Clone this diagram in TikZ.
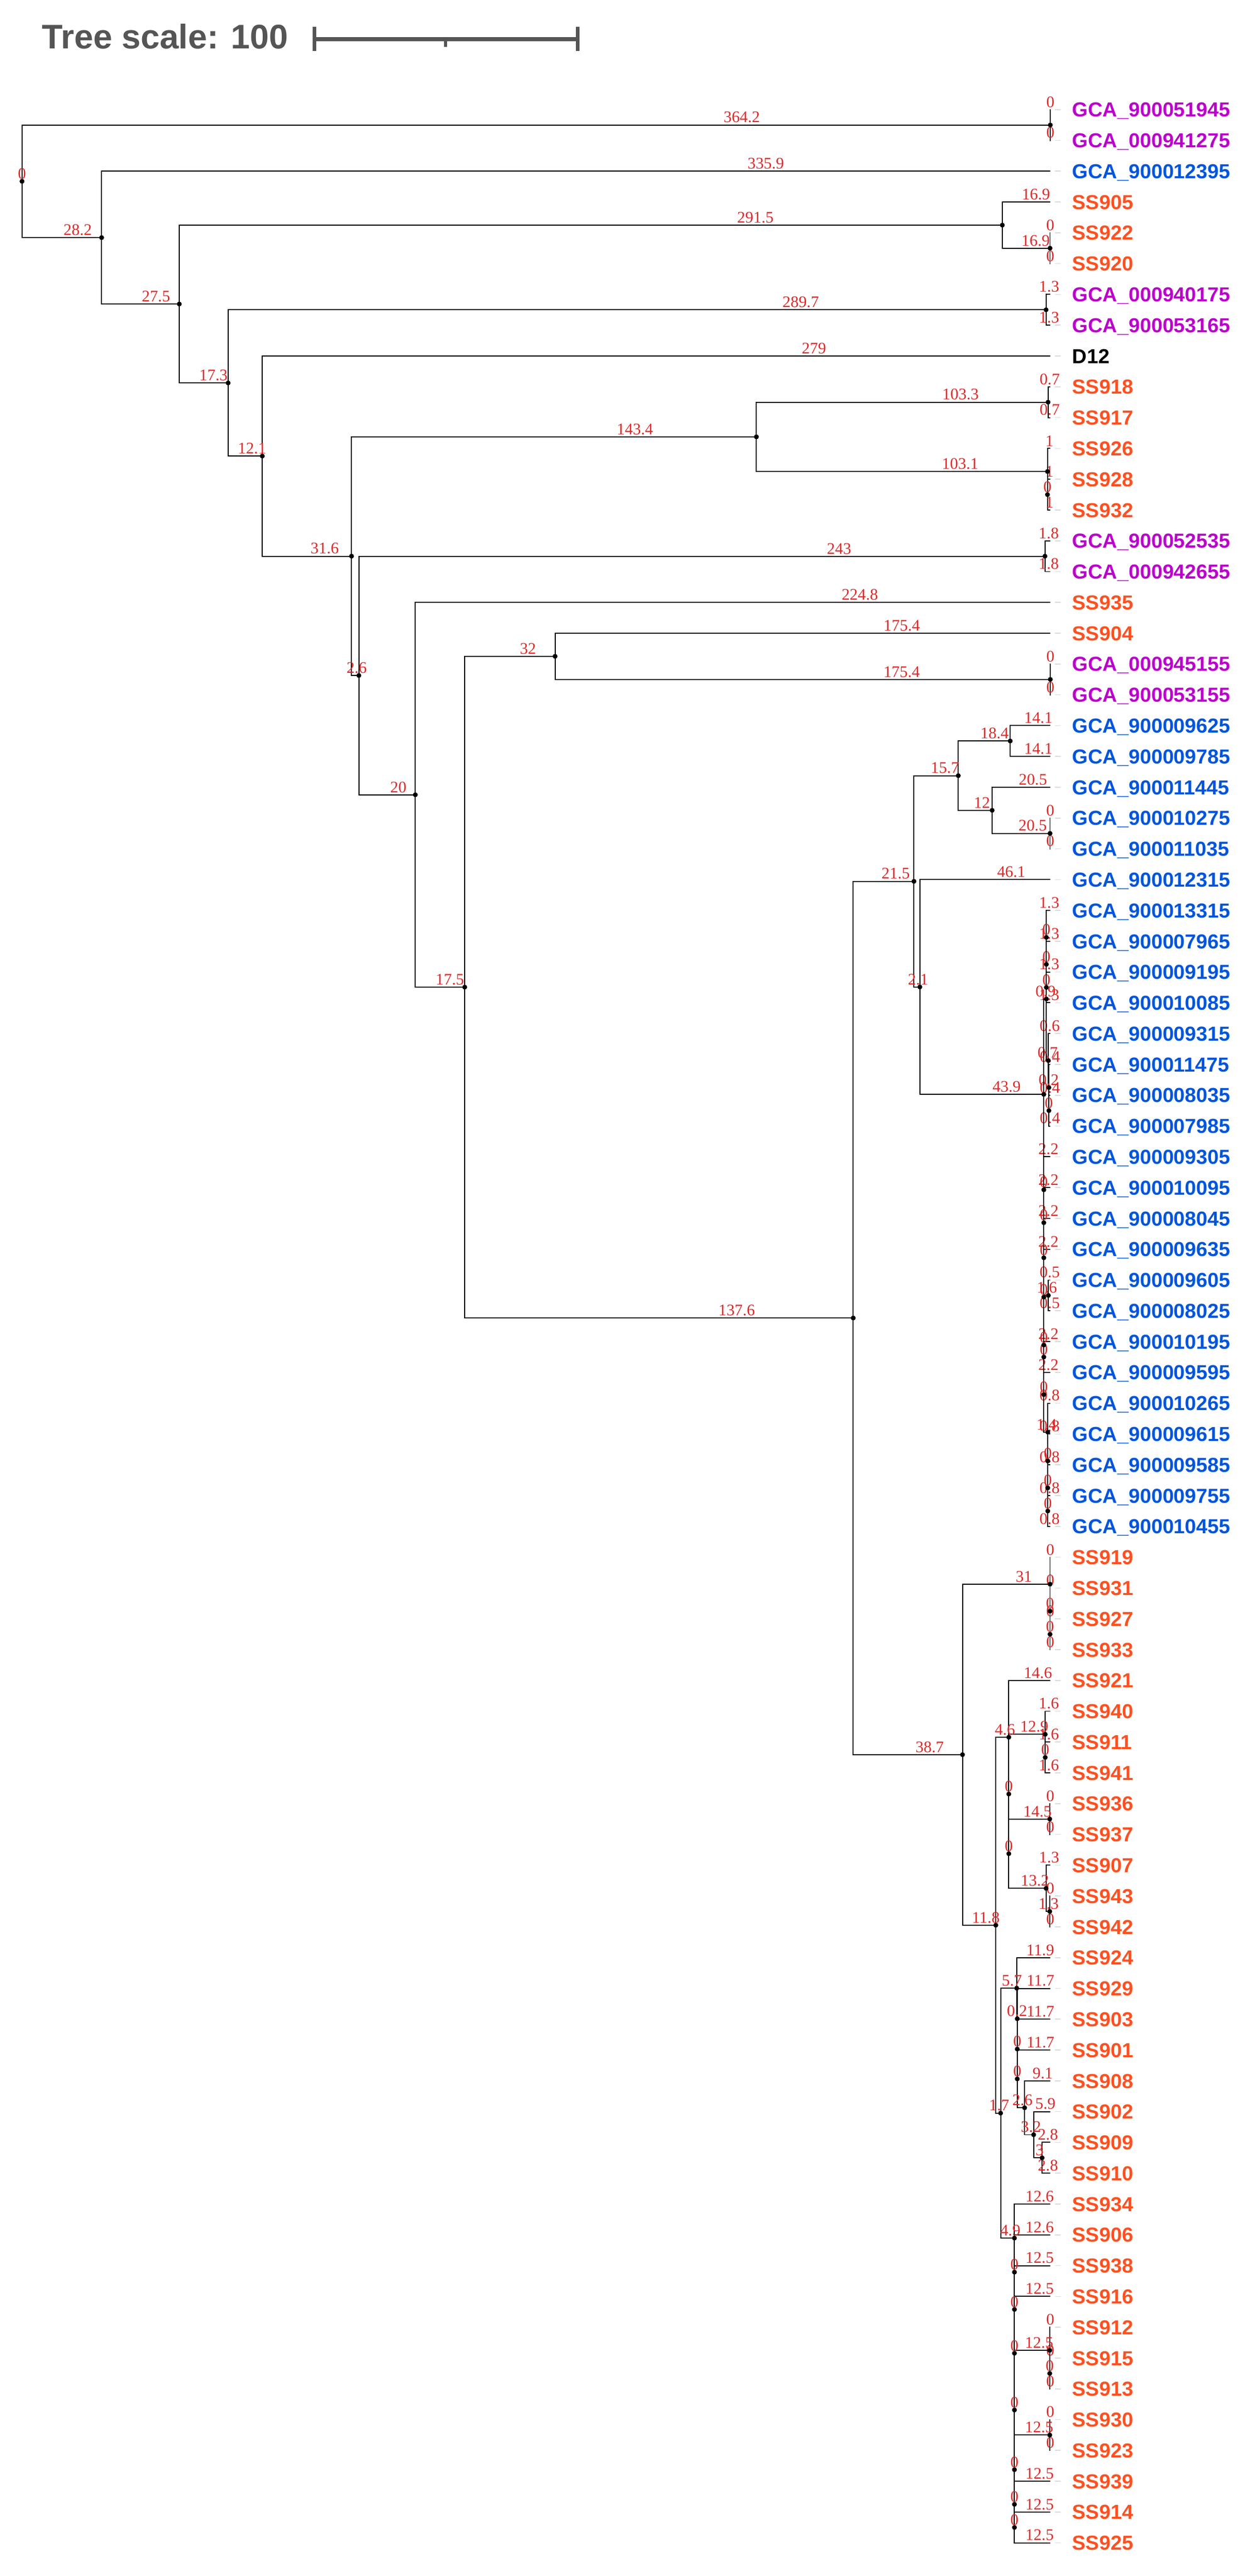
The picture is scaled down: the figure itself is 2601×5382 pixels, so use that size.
\documentclass[tikz,border=0pt]{standalone}
\usepackage{fontspec}
\setmainfont{Liberation Serif}
\newfontfamily\lsans{Liberation Sans}
\usetikzlibrary{calc}
\definecolor{cpur}{HTML}{BB00CC}
\definecolor{cblu}{HTML}{0055DD}
\definecolor{cora}{HTML}{FF5020}
\definecolor{clbl}{HTML}{E02828}
\definecolor{cgry}{HTML}{555555}
\tikzset{
  branch/.style={line width=0.6pt, black, line join=miter},
  blbl/.style={text=clbl, font=\fontsize{9.6}{10}\selectfont, above=1.1pt, inner sep=0pt},
  leaflabel/.style={font=\lsans\bfseries\fontsize{12.07}{14}\selectfont, anchor=base west, inner sep=0pt},
  dashline/.style={gray!30, line width=0.5pt},
  nodedot/.style={fill=black}
}
\newcommand\tipx{2195}
\newcommand\mkleaf[3]{%
  \coordinate (L#1) at (\tipx,{229+(#1-1)*64.35});
  \coordinate (Da#1) at ($(L#1)+(9,0)$);
  \coordinate (Db#1) at ($(L#1)+(21,0)$);
  \draw[dashline] (Da#1) -- (Db#1);
  \node[leaflabel, text=#3] (T#1) at ($(L#1)+(45,15.2)$) {#2};
}
\newcommand\mkint[6]{%
  \coordinate (tmpm) at ($(#3)!0.5!(#5)$);
  \coordinate (tmpx) at ({46+5.9*#2},0);
  \coordinate (#1) at (tmpx |- tmpm);
  \draw[branch] (#3) -- (#1 |- #3) -- (#1 |- #5) -- (#5);
  \path (#1 |- #3) -- node[pos=0.7, blbl] {#4} (#3);
  \path (#1 |- #5) -- node[pos=0.7, blbl] {#6} (#5);
  \fill[nodedot] (#1) circle[radius=1.45pt];
}
\begin{document}
\begin{tikzpicture}[x=0.01cm, y=-0.01cm]
\fill[white] (0,0) rectangle (2601,5382);
\useasboundingbox (0,0) rectangle (2601,5382);
% tree scale
\node[font=\lsans\bfseries\fontsize{20.3}{24}\selectfont, text=cgry, anchor=base west, inner sep=0pt] (ts) at (87,102) {Tree scale: 100};
\coordinate (sb0) at (655,82); \coordinate (sb1) at (1209,82); \coordinate (sbm) at (931,82);
\draw[cgry, line width=2.5pt] (sb0) -- (sb1);
\draw[cgry, line width=2pt] ($(sb0)+(2,-26)$) -- ($(sb0)+(2,25)$);
\draw[cgry, line width=2pt] ($(sb1)+(-2,-26)$) -- ($(sb1)+(-2,25)$);
\draw[cgry, line width=1.6pt] (sbm) -- ($(sbm)+(0,16)$);
% leaves
\mkleaf{1}{GCA\_900051945}{cpur}
\mkleaf{2}{GCA\_000941275}{cpur}
\mkleaf{3}{GCA\_900012395}{cblu}
\mkleaf{4}{SS905}{cora}
\mkleaf{5}{SS922}{cora}
\mkleaf{6}{SS920}{cora}
\mkleaf{7}{GCA\_000940175}{cpur}
\mkleaf{8}{GCA\_900053165}{cpur}
\mkleaf{9}{D12}{black}
\mkleaf{10}{SS918}{cora}
\mkleaf{11}{SS917}{cora}
\mkleaf{12}{SS926}{cora}
\mkleaf{13}{SS928}{cora}
\mkleaf{14}{SS932}{cora}
\mkleaf{15}{GCA\_900052535}{cpur}
\mkleaf{16}{GCA\_000942655}{cpur}
\mkleaf{17}{SS935}{cora}
\mkleaf{18}{SS904}{cora}
\mkleaf{19}{GCA\_000945155}{cpur}
\mkleaf{20}{GCA\_900053155}{cpur}
\mkleaf{21}{GCA\_900009625}{cblu}
\mkleaf{22}{GCA\_900009785}{cblu}
\mkleaf{23}{GCA\_900011445}{cblu}
\mkleaf{24}{GCA\_900010275}{cblu}
\mkleaf{25}{GCA\_900011035}{cblu}
\mkleaf{26}{GCA\_900012315}{cblu}
\mkleaf{27}{GCA\_900013315}{cblu}
\mkleaf{28}{GCA\_900007965}{cblu}
\mkleaf{29}{GCA\_900009195}{cblu}
\mkleaf{30}{GCA\_900010085}{cblu}
\mkleaf{31}{GCA\_900009315}{cblu}
\mkleaf{32}{GCA\_900011475}{cblu}
\mkleaf{33}{GCA\_900008035}{cblu}
\mkleaf{34}{GCA\_900007985}{cblu}
\mkleaf{35}{GCA\_900009305}{cblu}
\mkleaf{36}{GCA\_900010095}{cblu}
\mkleaf{37}{GCA\_900008045}{cblu}
\mkleaf{38}{GCA\_900009635}{cblu}
\mkleaf{39}{GCA\_900009605}{cblu}
\mkleaf{40}{GCA\_900008025}{cblu}
\mkleaf{41}{GCA\_900010195}{cblu}
\mkleaf{42}{GCA\_900009595}{cblu}
\mkleaf{43}{GCA\_900010265}{cblu}
\mkleaf{44}{GCA\_900009615}{cblu}
\mkleaf{45}{GCA\_900009585}{cblu}
\mkleaf{46}{GCA\_900009755}{cblu}
\mkleaf{47}{GCA\_900010455}{cblu}
\mkleaf{48}{SS919}{cora}
\mkleaf{49}{SS931}{cora}
\mkleaf{50}{SS927}{cora}
\mkleaf{51}{SS933}{cora}
\mkleaf{52}{SS921}{cora}
\mkleaf{53}{SS940}{cora}
\mkleaf{54}{SS911}{cora}
\mkleaf{55}{SS941}{cora}
\mkleaf{56}{SS936}{cora}
\mkleaf{57}{SS937}{cora}
\mkleaf{58}{SS907}{cora}
\mkleaf{59}{SS943}{cora}
\mkleaf{60}{SS942}{cora}
\mkleaf{61}{SS924}{cora}
\mkleaf{62}{SS929}{cora}
\mkleaf{63}{SS903}{cora}
\mkleaf{64}{SS901}{cora}
\mkleaf{65}{SS908}{cora}
\mkleaf{66}{SS902}{cora}
\mkleaf{67}{SS909}{cora}
\mkleaf{68}{SS910}{cora}
\mkleaf{69}{SS934}{cora}
\mkleaf{70}{SS906}{cora}
\mkleaf{71}{SS938}{cora}
\mkleaf{72}{SS916}{cora}
\mkleaf{73}{SS912}{cora}
\mkleaf{74}{SS915}{cora}
\mkleaf{75}{SS913}{cora}
\mkleaf{76}{SS930}{cora}
\mkleaf{77}{SS923}{cora}
\mkleaf{78}{SS939}{cora}
\mkleaf{79}{SS914}{cora}
\mkleaf{80}{SS925}{cora}
% internal nodes (bottom-up)
\mkint{A1}{364.2}{L1}{0}{L2}{0}
\mkint{N3b}{364.1}{L5}{0}{L6}{0}
\mkint{N3}{347.2}{L4}{16.9}{N3b}{16.9}
\mkint{N5}{362.7}{L7}{1.3}{L8}{1.3}
\mkint{N9}{363.4}{L10}{0.7}{L11}{0.7}
\mkint{N10b}{363.2}{L13}{1}{L14}{1}
\mkint{N10}{363.2}{L12}{1}{N10b}{0}
\mkint{N8}{260.1}{N9}{103.3}{N10}{103.1}
\mkint{N12}{362.3}{L15}{1.8}{L16}{1.8}
\mkint{N15b}{364.2}{L19}{0}{L20}{0}
\mkint{N15}{188.8}{L18}{175.4}{N15b}{175.4}
\mkint{N19}{350.0}{L21}{14.1}{L22}{14.1}
\mkint{N20b}{364.1}{L24}{0}{L25}{0}
\mkint{N20}{343.6}{L23}{20.5}{N20b}{20.5}
\mkint{N18}{331.6}{N19}{18.4}{N20}{12}
\mkint{Q3}{362.8}{L29}{1.3}{L30}{1.3}
\mkint{Q2}{362.8}{L28}{1.3}{Q3}{0}
\mkint{Q1}{362.8}{L27}{1.3}{Q2}{0}
\mkint{Q7}{363.7}{L33}{0.4}{L34}{0.4}
\mkint{Q6}{363.7}{L32}{0.4}{Q7}{0}
\mkint{Q5}{363.5}{L31}{0.6}{Q6}{0.2}
\mkint{Q4}{362.8}{Q1}{0}{Q5}{0.7}
\mkint{R12}{363.3}{L46}{0.8}{L47}{0.8}
\mkint{R11}{363.3}{L45}{0.8}{R12}{0}
\mkint{R10}{363.3}{L44}{0.8}{R11}{0}
\mkint{R9}{363.3}{L43}{0.8}{R10}{0}
\mkint{Rf}{361.9}{L41}{2.2}{L42}{2.2}
\mkint{Rg}{361.9}{Rf}{0}{R9}{1.4}
\mkint{R5}{363.5}{L39}{0.5}{L40}{0.5}
\mkint{Re}{361.9}{R5}{1.6}{Rg}{0}
\mkint{Rd}{361.9}{L38}{2.2}{Re}{0}
\mkint{Rc}{361.9}{L37}{2.2}{Rd}{0}
\mkint{Rb}{361.9}{L36}{2.2}{Rc}{0}
\mkint{Ra}{361.9}{L35}{2.2}{Rb}{0}
\mkint{N22}{361.9}{Q4}{0.9}{Ra}{0}
\mkint{N21}{318.0}{L26}{46.1}{N22}{43.9}
\mkint{N17}{315.9}{N18}{15.7}{N21}{2.1}
\mkint{S3}{364.1}{L50}{0}{L51}{0}
\mkint{S2}{364.1}{L49}{0}{S3}{0}
\mkint{N31}{364.1}{L48}{0}{S2}{0}
\mkint{M1b}{362.4}{L54}{1.6}{L55}{1.6}
\mkint{M1}{362.4}{L53}{1.6}{M1b}{0}
\mkint{M2}{364.0}{L56}{0}{L57}{0}
\mkint{M3b}{364.0}{L59}{0}{L60}{0}
\mkint{M3}{362.7}{L58}{1.3}{M3b}{1.3}
\mkint{K2}{349.5}{M2}{14.5}{M3}{13.2}
\mkint{K1}{349.5}{M1}{12.9}{K2}{0}
\mkint{N33}{349.5}{L52}{14.6}{K1}{0}
\mkint{P4}{361.3}{L67}{2.8}{L68}{2.8}
\mkint{P3}{358.3}{L66}{5.9}{P4}{3}
\mkint{P26}{355.1}{L65}{9.1}{P3}{3.2}
\mkint{Z4}{352.5}{L64}{11.7}{P26}{2.6}
\mkint{Z3}{352.5}{L63}{11.7}{Z4}{0}
\mkint{Z2}{352.5}{L62}{11.7}{Z3}{0}
\mkint{P1}{352.3}{L61}{11.9}{Z2}{0.2}
\mkint{Wl}{351.5}{L79}{12.5}{L80}{12.5}
\mkint{Wa}{351.5}{L78}{12.5}{Wl}{0}
\mkint{Uc}{364.0}{L76}{0}{L77}{0}
\mkint{Wb}{351.5}{Uc}{12.5}{Wa}{0}
\mkint{Tq}{364.0}{L74}{0}{L75}{0}
\mkint{Tc}{364.0}{L73}{0}{Tq}{0}
\mkint{Wc}{351.5}{Tc}{12.5}{Wb}{0}
\mkint{Wd}{351.5}{L72}{12.5}{Wc}{0}
\mkint{We}{351.5}{L71}{12.5}{Wd}{0}
\mkint{Wf}{351.5}{L70}{12.6}{We}{0}
\mkint{P2}{351.5}{L69}{12.6}{Wf}{0}
\mkint{N40}{346.6}{P1}{5.7}{P2}{4.9}
\mkint{N32}{344.9}{N33}{4.6}{N40}{1.7}
\mkint{N30}{333.1}{N31}{31}{N32}{11.8}
\mkint{N16}{294.4}{N17}{21.5}{N30}{38.7}
\mkint{N14}{156.8}{N15}{32}{N16}{137.6}
\mkint{N13}{139.3}{L17}{224.8}{N14}{17.5}
\mkint{N11}{119.3}{N12}{243}{N13}{20}
\mkint{N7}{116.7}{N8}{143.4}{N11}{2.6}
\mkint{N6}{85.1}{L9}{279}{N7}{31.6}
\mkint{N4}{73.0}{N5}{289.7}{N6}{12.1}
\mkint{N2}{55.7}{N3}{291.5}{N4}{17.3}
\mkint{N1}{28.2}{L3}{335.9}{N2}{27.5}
\mkint{Rt}{0}{A1}{364.2}{N1}{28.2}
\node[blbl] (rootlbl) at (Rt) {0};
\end{tikzpicture}
\end{document}
